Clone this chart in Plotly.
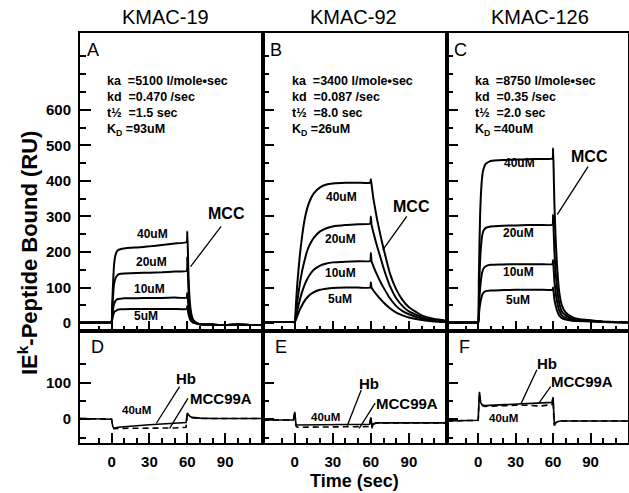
import plotly.graph_objects as go

# ---------------- data ----------------
column_titles = ["KMAC-19", "KMAC-92", "KMAC-126"]
top_letters = ["A", "B", "C"]
bottom_letters = ["D", "E", "F"]
conc_labels = ["40uM", "20uM", "10uM", "5uM"]

kinetics_A = ["ka\u00a0\u00a0=5100 l/mole•sec", "kd\u00a0\u00a0=0.470 /sec", "t½\u00a0\u00a0=1.5 sec", "K<sub>D</sub> =93uM"]
kinetics_B = ["ka\u00a0\u00a0=3400 l/mole•sec", "kd\u00a0\u00a0=0.087 /sec", "t½\u00a0\u00a0=8.0 sec", "K<sub>D</sub> =26uM"]
kinetics_C = ["ka\u00a0\u00a0=8750 l/mole•sec", "kd\u00a0\u00a0=0.35 /sec", "t½\u00a0\u00a0=2.0 sec", "K<sub>D</sub> =40uM"]

# Panel A (KMAC-19, MCC)
time_A = [-25, -1, 0, 0.5, 1, 1.5, 2, 3, 4, 5, 7, 10, 20, 30, 40, 50, 59.5, 60, 60.5, 61, 62, 63, 64, 65, 67, 70, 80, 90, 100, 110, 120]
A_40 = [2, 2, 2, 50, 95, 135, 165, 190, 200, 205, 208, 210, 213, 216, 220, 224, 228, 258, 200, 130, 60, 30, 15, 8, 2, -3, -4, -5, -4, -5, -5]
A_20 = [2, 2, 2, 35, 65, 92, 110, 125, 132, 136, 139, 140, 141, 142, 143, 145, 147, 185, 140, 90, 45, 22, 12, 6, 1, -3, -4, -5, -4, -5, -5]
A_10 = [2, 2, 2, 18, 34, 46, 54, 62, 66, 68, 69, 70, 70, 71, 71, 72, 72, 85, 65, 45, 22, 12, 6, 3, 0, -3, -4, -5, -4, -5, -5]
A_5 = [2, 2, 2, 9, 18, 25, 30, 34, 36, 38, 39, 39, 40, 40, 40, 40, 40, 48, 36, 25, 12, 6, 3, 1, -1, -3, -4, -5, -4, -5, -5]

# Panel B (KMAC-92, MCC)
time_B = [-25, -1, 0, 1, 2, 4, 6, 8, 10, 12, 15, 20, 25, 30, 40, 50, 59.5, 60, 60.5, 62, 65, 68, 70, 75, 80, 85, 90, 100, 110, 120]
B_40 = [3, 3, 3, 55, 110, 190, 250, 295, 325, 345, 365, 382, 390, 393, 395, 395, 395, 405, 392, 350, 290, 240, 210, 140, 95, 65, 45, 22, 12, 7]
B_20 = [3, 3, 3, 30, 60, 110, 150, 180, 205, 222, 240, 258, 267, 272, 276, 278, 280, 300, 278, 255, 215, 180, 155, 105, 70, 48, 33, 17, 9, 5]
B_10 = [3, 3, 3, 18, 35, 65, 90, 110, 125, 137, 150, 162, 168, 171, 173, 174, 175, 197, 174, 160, 135, 113, 100, 70, 48, 34, 25, 13, 7, 4]
B_5 = [3, 3, 3, 10, 20, 38, 52, 64, 73, 80, 87, 94, 97, 99, 100, 100, 100, 115, 100, 92, 78, 66, 58, 42, 30, 22, 16, 9, 5, 3]

# Panel C (KMAC-126, MCC)
time_C = [-25, -1, 0, 0.5, 1, 1.5, 2, 3, 4, 6, 10, 20, 30, 40, 50, 59.5, 60, 60.5, 61, 62, 63, 64, 65, 67, 70, 75, 80, 90, 100, 110, 120]
C_40 = [2, 2, 2, 120, 220, 300, 350, 405, 430, 448, 456, 459, 460, 461, 462, 463, 492, 420, 340, 240, 170, 120, 85, 50, 30, 18, 12, 8, 5, 3, 2]
C_20 = [2, 2, 2, 70, 130, 175, 205, 242, 258, 268, 272, 274, 275, 276, 276, 277, 305, 255, 205, 145, 105, 75, 55, 33, 22, 14, 10, 7, 4, 3, 2]
C_10 = [2, 2, 2, 40, 72, 97, 115, 140, 152, 160, 164, 165, 166, 166, 166, 166, 178, 150, 120, 88, 64, 47, 35, 22, 15, 10, 8, 6, 4, 3, 2]
C_5 = [2, 2, 2, 22, 40, 53, 63, 77, 85, 90, 92, 93, 94, 94, 94, 94, 100, 85, 68, 50, 37, 28, 21, 14, 10, 7, 6, 5, 3, 2, 2]

# Panel D (KMAC-19, Hb / MCC99A at 40uM)
time_D = [-25, -1, 0, 1, 2, 5, 10, 20, 30, 40, 50, 59, 60, 61, 62, 64, 66, 70, 80, 90, 100, 110, 120]
D_Hb = [2, 2, 0, -20, -25, -22, -20, -18, -15, -13, -11, -9, 17, 12, 8, 5, 4, 3, 2, 2, 1, 2, 2]
D_99A = [2, 2, 0, -20, -26, -25, -25, -25, -24, -24, -24, -22, 10, 8, 5, 4, 3, 2, 2, 2, 1, 2, 2]

# Panel E (KMAC-92)
time_E = [-25, -1, 0, 0.5, 1, 2, 5, 10, 20, 30, 40, 50, 59, 60, 61, 62, 64, 66, 70, 80, 90, 100, 110, 120]
E_Hb = [-2, -2, 20, -10, -15, -16, -16, -16, -16, -15, -15, -15, -14, 5, -22, -12, -10, -10, -10, -10, -10, -10, -10, -10]
E_99A = [-2, -2, 20, -10, -18, -22, -22, -22, -22, -22, -22, -22, -20, 3, -25, -14, -10, -10, -10, -10, -10, -10, -10, -10]

# Panel F (KMAC-126)
time_F = [-25, -1, 0, 0.5, 1, 2, 3, 5, 10, 20, 30, 40, 50, 59, 60, 60.5, 61, 62, 64, 66, 70, 80, 90, 100, 110, 120]
F_Hb = [-5, -5, -3, 40, 75, 45, 40, 37, 38, 40, 42, 44, 45, 46, 60, 10, -18, -10, -6, -5, -5, -5, -5, -5, -5, -5]
F_99A = [-5, -5, -3, 40, 70, 43, 38, 35, 36, 37, 38, 38, 36, 40, 55, 8, -15, -10, -6, -5, -5, -5, -5, -5, -5, -5]

top_ticks = [0, 100, 200, 300, 400, 500, 600]
top_ticktext = ["0", "100", "200", "300", "400", "500", "600"]
top_minor = [50, 150, 250, 350, 450, 550, 650, 700, 750]
bottom_ticks = [0, 100]
bottom_ticktext = ["0", "100"]
bottom_minor = [-50, 50, 150]
x_ticks = [0, 30, 60, 90]
x_minor = [-10, 10, 20, 40, 50, 70, 80, 100, 110]

# ---------------- layout geometry ----------------
W, H = 629, 493
col_px = [(80, 263), (263, 447), (447, 628)]
top_px = (33, 331)
bot_px = (331, 443)
x_range = [-25, 120]
top_range = [-22, 816]
bot_range = [-65, 241]

FONT = "Liberation Sans, Arial, sans-serif"
BLACK = "#000000"


def xd(a, b):
    return [a / W, b / W]


def yd(top, bottom):
    return [(H - bottom) / H, (H - top) / H]


fig = go.Figure()

top_sets = [
    (time_A, [A_40, A_20, A_10, A_5]),
    (time_B, [B_40, B_20, B_10, B_5]),
    (time_C, [C_40, C_20, C_10, C_5]),
]
bottom_sets = [
    (time_D, D_Hb, D_99A),
    (time_E, E_Hb, E_99A),
    (time_F, F_Hb, F_99A),
]

for i, (t, curves) in enumerate(top_sets):
    ax = "" if i == 0 else str(i + 1)
    for c in curves:
        fig.add_trace(go.Scatter(x=t, y=c, mode="lines", line=dict(color=BLACK, width=2, shape="spline", smoothing=0.4),
                                 xaxis="x" + ax, yaxis="y" + ax, showlegend=False, hoverinfo="skip"))

for i, (t, hb, m99) in enumerate(bottom_sets):
    ax = str(i + 4)
    fig.add_trace(go.Scatter(x=t, y=m99, mode="lines", line=dict(color=BLACK, width=1.6, dash="6px,4px"),
                             xaxis="x" + ax, yaxis="y" + ax, showlegend=False, hoverinfo="skip"))
    fig.add_trace(go.Scatter(x=t, y=hb, mode="lines", line=dict(color=BLACK, width=1.6),
                             xaxis="x" + ax, yaxis="y" + ax, showlegend=False, hoverinfo="skip"))

layout = dict(
    width=W, height=H, margin=dict(l=0, r=0, t=0, b=0),
    paper_bgcolor="white", plot_bgcolor="white", showlegend=False,
    font=dict(family=FONT, color=BLACK),
)

axis_line = dict(showline=True, mirror=True, linecolor=BLACK, linewidth=2, showgrid=False, zeroline=False)

for i in range(6):
    row = 0 if i < 3 else 1
    col = i % 3
    n = "" if i == 0 else str(i + 1)
    a, b = col_px[col]
    ydom = yd(*top_px) if row == 0 else yd(*bot_px)
    layout["xaxis" + n] = dict(
        domain=xd(a, b), range=x_range, anchor="y" + n, **axis_line,
        tickmode="array", tickvals=x_ticks, ticktext=[str(v) for v in x_ticks],
        ticks="inside", ticklen=10, tickwidth=1.5, tickcolor=BLACK,
        showticklabels=(row == 1), ticklabelstandoff=4,
        tickfont=dict(family=FONT, size=15, weight="bold", color=BLACK),
        minor=dict(tickvals=x_minor, ticks="inside", ticklen=5, tickwidth=1.5, tickcolor=BLACK),
    )
    if row == 0:
        yt = dict(tickvals=top_ticks, ticktext=top_ticktext, range=top_range,
                  minor=dict(tickvals=top_minor, ticks="inside", ticklen=6, tickwidth=1.5, tickcolor=BLACK))
    else:
        yt = dict(tickvals=bottom_ticks, ticktext=bottom_ticktext, range=bot_range,
                  minor=dict(tickvals=bottom_minor, ticks="inside", ticklen=6, tickwidth=1.5, tickcolor=BLACK))
    layout["yaxis" + n] = dict(
        domain=ydom, anchor="x" + n, **axis_line, tickmode="array",
        ticks="inside", ticklen=11, tickwidth=1.5, tickcolor=BLACK,
        showticklabels=(col == 0), ticklabelstandoff=4,
        tickfont=dict(family=FONT, size=15, weight="bold", color=BLACK), **yt,
    )

fig.update_layout(**layout)

ann = []
shapes = []


def add_text(text, x, y, ref, size, bold=True, xanchor="center", yanchor="middle"):
    ann.append(dict(text=text, x=x, y=y, xref="x" + ref, yref="y" + ref, showarrow=False,
                    xanchor=xanchor, yanchor=yanchor,
                    font=dict(family=FONT, size=size, color=BLACK, weight="bold" if bold else "normal")))


def add_line(x0, y0, x1, y1, ref):
    shapes.append(dict(type="line", x0=x0, y0=y0, x1=x1, y1=y1, xref="x" + ref, yref="y" + ref,
                       line=dict(color=BLACK, width=1.3)))


# column titles
for title, cx in zip(column_titles, [165, 353, 540]):
    ann.append(dict(text=title, x=cx / W, y=(H - 17) / H, xref="paper", yref="paper", showarrow=False,
                    xanchor="center", yanchor="middle", font=dict(family=FONT, size=20, color=BLACK)))

refs_top = ["", "2", "3"]
refs_bot = ["4", "5", "6"]

# panel letters
for L, r in zip(top_letters, refs_top):
    add_text(L, -14.5, 768, r, 18, bold=False)
for L, r in zip(bottom_letters, refs_bot):
    add_text(L, -11, 197, r, 18, bold=False)

# kinetics text
kin_x = [-5.2, -3.4, -4.0]
kin_y = [681, 637, 592, 544]
for lines, r, kx in zip([kinetics_A, kinetics_B, kinetics_C], refs_top, kin_x):
    for line, ky in zip(lines, kin_y):
        add_text(line, kx, ky, r, 12.5, xanchor="left")

# concentration labels in top panels
conc_pos = [
    [(32.8, 250), (31.6, 173), (30.2, 96), (27.6, 21)],
    [(37.2, 356), (35.9, 236), (35.9, 142), (35.9, 67)],
    [(33.4, 450), (32.0, 253), (32.0, 143), (32.0, 66)],
]
for pos, r in zip(conc_pos, refs_top):
    for lab, (x, y) in zip(conc_labels, pos):
        add_text(lab, x, y, r, 12)

# MCC labels and pointers
mcc = [((90.8, 309), (86.8, 272, 62.6, 159)),
       ((92.2, 328), (88.3, 300, 69.4, 206)),
       ((89.4, 468), (88.0, 440, 63.3, 305))]
for (lp, ln), r in zip(mcc, refs_top):
    add_text("MCC", lp[0], lp[1], r, 16)
    add_line(*ln, r)

# bottom panel labels and pointers
bot_labels = [
    dict(hb=(59.2, 112), m=(86.8, 57), c=(19.7, 25), hbl=(53.9, 89, 35.5, -11), ml=(60.5, 57, 46, -25)),
    dict(hb=(58.7, 98), m=(88.6, 44), c=(24, 7), hbl=(52.4, 80, 41.4, -18), ml=(63.4, 44, 50.8, -25)),
    dict(hb=(54.9, 153), m=(83.0, 103), c=(20.4, 3), hbl=(47, 135, 34.5, 44), ml=(58, 89, 48.6, 44)),
]
for d, r in zip(bot_labels, refs_bot):
    add_text("Hb", d["hb"][0], d["hb"][1], r, 15)
    add_text("MCC99A", d["m"][0], d["m"][1], r, 15)
    add_text("40uM", d["c"][0], d["c"][1], r, 11.5)
    add_line(*d["hbl"], r)
    add_line(*d["ml"], r)

# axis titles
ann.append(dict(text="IE<sup>k</sup>-Peptide Bound (RU)", x=28 / W, y=(H - 253) / H, xref="paper", yref="paper",
                showarrow=False, textangle=-90, xanchor="center", yanchor="middle",
                font=dict(family=FONT, size=22, color=BLACK, weight="bold")))
ann.append(dict(text="Time (sec)", x=354 / W, y=(H - 481) / H, xref="paper", yref="paper",
                showarrow=False, xanchor="center", yanchor="middle",
                font=dict(family=FONT, size=18, color=BLACK, weight="bold")))

fig.update_layout(annotations=ann, shapes=shapes)
fig.write_html("out.html")
